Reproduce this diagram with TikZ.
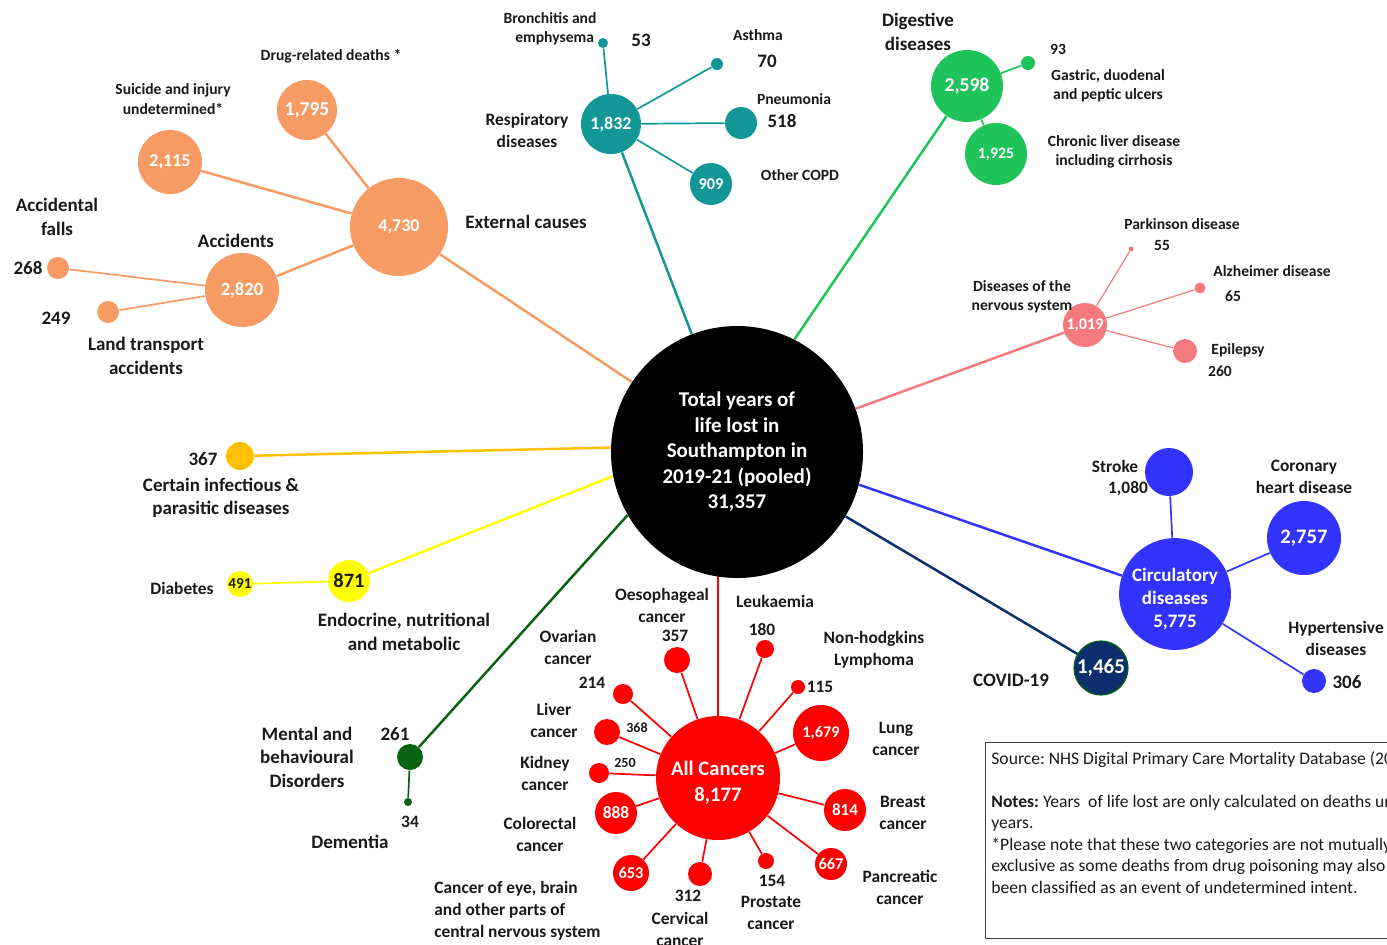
\documentclass[tikz,border=0pt]{standalone}
\usepackage{fontspec}
\setmainfont{Carlito}
\pgfdeclarelayer{bg}
\pgfsetlayers{bg,main}
\definecolor{corange}{RGB}{247,155,100}
\definecolor{cteal}{RGB}{18,150,150}
\definecolor{cgreen}{RGB}{30,196,90}
\definecolor{cpink}{RGB}{245,122,126}
\definecolor{cblue}{RGB}{51,51,255}
\definecolor{cnavy}{RGB}{12,48,107}
\definecolor{cgold}{RGB}{255,192,0}
\definecolor{cyellow}{RGB}{255,255,0}
\definecolor{cdkgreen}{RGB}{8,100,18}
\definecolor{cred}{RGB}{255,0,0}
\definecolor{ctext}{RGB}{25,25,25}
\newcommand{\fs}[2]{\fontsize{#1}{#2}\selectfont}
\frenchspacing
\begin{document}
\frenchspacing
\begin{tikzpicture}[x=0.5pt,y=-0.5pt,
  bub/.style={circle,inner sep=0pt,text=white,align=center,font=\bfseries\fs{9}{11}},
  rad/.style={minimum size=#1pt},
  lab/.style={font=\bfseries\fs{7.8}{9.6},align=center,inner sep=0pt,text=ctext},
  labm/.style={font=\bfseries\fs{8.7}{11},align=center,inner sep=0pt,text=ctext},
  labb/.style={font=\bfseries\fs{9.5}{11.7},align=center,inner sep=0pt,text=ctext},
  labs/.style={font=\bfseries\fs{7}{8},align=center,inner sep=0pt,text=ctext},
  mainln/.style={line width=1.25pt},
  subln/.style={line width=0.85pt},
]
\useasboundingbox (0,0) rectangle (1387,944);
\clip (0,0) rectangle (1387,944);

% ---------- centre ----------
\node[bub,fill=black,rad=126,font=\bfseries\fs{10.5}{12.75}] (tot) at (737,452)
  {Total years of\\life lost in\\Southampton in\\2019-21 (pooled)\\31,357};

% ---------- external causes ----------
\node[bub,fill=corange,rad=49] (ext) at (399,227) {4,730};
\node[bub,fill=corange,rad=30,font=\bfseries\fs{9.8}{11}] (drug) at (307,110) {1,795};
\node[bub,fill=corange,rad=32] (sui) at (170,162) {2,115};
\node[bub,fill=corange,rad=37,font=\bfseries\fs{9.3}{11}] (acc) at (242,290) {2,820};
\node[bub,fill=corange,rad=11] (fall) at (58,268) {};
\node[bub,fill=corange,rad=11] (land) at (108,312) {};
\node[lab] (tdrug) at (331,56) {Drug-related deaths *};
\node[lab] (tsui) at (173,99) {Suicide and injury\\undetermined*};
\node[labb] (text) at (526,222) {External causes};
\node[labb] (tacc) at (236,241) {Accidents};
\node[labb] (tfall) at (57,217) {Accidental\\falls};
\node[labb] (nfall) at (28,268) {268};
\node[labb] (nland) at (56,318) {249};
\node[labb] (tland) at (146,356) {Land transport\\accidents};

% ---------- respiratory ----------
\node[bub,fill=cteal,rad=30] (resp) at (611,124) {1,832};
\node[bub,fill=cteal,rad=5] (bron) at (603,43) {};
\node[bub,fill=cteal,rad=6] (asth) at (717,64) {};
\node[bub,fill=cteal,rad=16] (pneu) at (741,123) {};
\node[bub,fill=cteal,rad=21,font=\bfseries\fs{8.2}{10}] (copd) at (711,184) {909};
\node[lab] (tbron) at (550,29) {Bronchitis and\\\hspace*{0.6em}emphysema};
\node[labb] (nbron) at (641,40) {53};
\node[lab] (tasth) at (758,35) {Asthma};
\node[labb] (nasth) at (767,61) {70};
\node[lab] (tpneu) at (794,99) {Pneumonia};
\node[labb] (npneu) at (782,121) {518};
\node[lab] (tcopd) at (800,175) {Other COPD};
\node[labm] (tresp) at (527,130) {Respiratory\\diseases};

% ---------- digestive ----------
\node[bub,fill=cgreen,rad=36,font=\bfseries\fs{9.8}{11}] (dig) at (967,86) {2,598};
\node[bub,fill=cgreen,rad=7] (ulc) at (1028,63) {};
\node[bub,fill=cgreen,rad=31,font=\bfseries\fs{7.9}{10}] (livd) at (996,154) {1,925};
\node[labb] (tdig) at (918,32) {Digestive\\diseases};
\node[lab] (nulc) at (1058,49) {93};
\node[lab] (tulc) at (1108,86) {Gastric, duodenal\\and peptic ulcers};
\node[lab] (tlivd) at (1114,152) {Chronic liver disease\\including cirrhosis};

% ---------- nervous ----------
\node[bub,fill=cpink,rad=22,font=\bfseries\fs{8.1}{10}] (nerv) at (1085,325) {1,019};
\node[bub,fill=cpink,rad=2.5] (park) at (1131,249) {};
\node[bub,fill=cpink,rad=5.5] (alz) at (1200,288) {};
\node[bub,fill=cpink,rad=12] (epi) at (1185,351) {};
\node[lab] (tnerv) at (1022,297) {Diseases of the\\nervous system};
\node[lab] (tpark) at (1182,224) {Parkinson disease};
\node[lab] (npark) at (1162,245) {55};
\node[lab] (talz) at (1272,271) {Alzheimer disease};
\node[lab] (nalz) at (1233,296) {65};
\node[lab] (tepi) at (1238,350) {Epilepsy};
\node[lab] (nepi) at (1220,371) {260};

% ---------- circulatory ----------
\node[bub,fill=cblue,rad=54,font=\bfseries\fs{9.5}{11.4}] (circ) at (1175,594) {\rule{0pt}{12pt}Circulatory\\diseases\\5,775};
\node[bub,fill=cblue,rad=24] (stroke) at (1169,472) {};
\node[bub,fill=cblue,rad=37,font=\bfseries\fs{10.3}{12}] (chd) at (1304,538) {2,757};
\node[bub,fill=cblue,rad=12] (hyp) at (1314,681) {};
\node[labm] (tstroke) at (1115,466) {Stroke};
\node[labm] (nstroke) at (1128,489) {1,080};
\node[labm] (tchd) at (1304,477) {Coronary\\heart disease};
\node[labm] (thyp) at (1336,638) {Hypertensive\\diseases};
\node[labb] (nhyp) at (1347,682) {306};

% ---------- covid ----------
\node[bub,fill=cnavy,draw=cdkgreen,line width=0.6pt,rad=27,font=\bfseries\fs{10.5}{12}] (covid) at (1101,668) {1,465};
\node[labb] (tcovid) at (1011,680) {COVID-19};

% ---------- infectious / endocrine ----------
\node[bub,fill=cgold,rad=14] (inf) at (240,456) {};
\node[labb] (ninf) at (203,459) {367};
\node[labb] (tinf) at (221,498) {Certain infectious \&\\parasitic diseases};
\node[bub,fill=cyellow,rad=21,text=ctext,font=\bfseries\fs{10.2}{12}] (endo) at (349,581) {871};
\node[bub,fill=cyellow,rad=13,text=ctext,font=\bfseries\fs{7.6}{9}] (diab) at (240,584) {491};
\node[labm] (tdiab) at (182,588) {Diabetes};
\node[labb] (tendo) at (404,632) {Endocrine, nutritional\\and metabolic};

% ---------- mental ----------
\node[bub,fill=cdkgreen,rad=13] (ment) at (410,757) {};
\node[bub,fill=cdkgreen,rad=4] (dem) at (408,802) {};
\node[labb] (nment) at (395,734) {261};
\node[labb] (tment) at (307,757) {Mental and\\behavioural\\Disorders};
\node[labm] (ndem) at (410,822) {34};
\node[labb] (tdem) at (350,842) {Dementia};

% ---------- cancers ----------
\node[bub,fill=cred,rad=62,font=\bfseries\fs{10.3}{13}] (canc) at (718,778) {\rule{0pt}{11.5pt}All Cancers\\8,177};
\node[bub,fill=cred,rad=13] (oes) at (677,660) {};
\node[bub,fill=cred,rad=9] (leuk) at (765,649) {};
\node[bub,fill=cred,rad=7] (nhl) at (798,687) {};
\node[bub,fill=cred,rad=28,font=\bfseries\fs{8.1}{10}] (lung) at (821,733) {1,679};
\node[bub,fill=cred,rad=21,font=\bfseries\fs{8.5}{10}] (breast) at (845,810) {814};
\node[bub,fill=cred,rad=16,font=\bfseries\fs{8.2}{10}] (panc) at (831,864) {667};
\node[bub,fill=cred,rad=8] (pros) at (766,861) {};
\node[bub,fill=cred,rad=12] (cerv) at (700,874) {};
\node[bub,fill=cred,rad=18,font=\bfseries\fs{8.2}{10}] (eye) at (631,873) {653};
\node[bub,fill=cred,rad=21,font=\bfseries\fs{8.7}{10}] (colo) at (616,813) {888};
\node[bub,fill=cred,rad=10] (kid) at (599,773) {};
\node[bub,fill=cred,rad=13] (livc) at (607,732) {};
\node[bub,fill=cred,rad=10] (ova) at (623,694) {};
\node[labm] (toes) at (662,605) {Oesophageal\\cancer};
\node[labm] (noes) at (675,636) {357};
\node[labm] (tleuk) at (775,601) {Leukaemia};
\node[labm] (nleuk) at (762,630) {180};
\node[labm] (tnhl) at (874,650) {Non-hodgkins\\Lymphoma};
\node[labm] (nnhl) at (820,687) {115};
\node[labm] (tlung) at (896,739) {Lung\\cancer};
\node[labm] (tbreast) at (903,813) {Breast\\cancer};
\node[labm] (tpanc) at (900,887) {Pancreatic\\cancer};
\node[labm] (npros) at (772,881) {154};
\node[labm] (tpros) at (771,913) {Prostate\\cancer};
\node[labm] (ncerv) at (688,896) {312};
\node[labm] (tcerv) at (680,929) {Cervical\\cancer};
\node[labm,align=left,anchor=west] (teye) at (434,911) {Cancer of eye, brain\\and other parts of\\central nervous system};
\node[labm] (tcolo) at (540,834) {Colorectal\\cancer};
\node[labs] (nkid) at (625,763) {250};
\node[labm] (tkid) at (545,773) {Kidney\\cancer};
\node[labs] (nlivc) at (637,728) {368};
\node[labm] (tlivc) at (554,720) {Liver\\cancer};
\node[labm] (nova) at (592,683) {214};
\node[labm] (tova) at (568,647) {Ovarian\\cancer};

% ---------- notes box ----------
\node[draw=black!75,line width=0.7pt,rectangle,anchor=north west,inner sep=0pt,
  minimum width=220pt,minimum height=98pt] (nbox) at (985,742) {};
\node[anchor=north west,align=left,inner sep=0pt,font=\fs{8.8}{10.75},text=ctext]
  (ntext) at (991,751) {Source: NHS Digital Primary Care Mortality Database (2019-21)\\
  \mbox{}\\
  \textbf{Notes:} Years\ \ of life lost are only calculated on deaths under 75\\
  years.\\
  *Please note that these two categories are not mutually\\
  exclusive as some deaths from drug poisoning may also have\\
  been classified as an event of undetermined intent.};

% ---------- connectors ----------
\begin{pgfonlayer}{bg}
\draw[mainln,corange] (tot) -- (ext);
\draw[mainln,corange] (ext) -- (drug);
\draw[mainln,corange] (ext) -- (sui);
\draw[mainln,corange] (ext) -- (acc);
\draw[subln,corange] (acc) -- (fall);
\draw[subln,corange] (acc) -- (land);

\draw[mainln,cteal] (tot) -- (resp);
\draw[subln,cteal] (resp) -- (bron);
\draw[subln,cteal] (resp) -- (asth);
\draw[subln,cteal] (resp) -- (pneu);
\draw[subln,cteal] (resp) -- (copd);

\draw[mainln,cgreen] (tot.63) -- (dig);
\draw[subln,cgreen] (dig) -- (ulc);
\draw[subln,cgreen] (dig) -- (livd);

\draw[mainln,cpink] (tot) -- (nerv);
\draw[subln,cpink,line width=0.6pt] (nerv) -- (park);
\draw[subln,cpink,line width=0.6pt] (nerv) -- (alz);
\draw[subln,cpink,line width=0.6pt] (nerv) -- (epi);

\draw[mainln,cblue] (tot.345) -- (circ);
\draw[subln,cblue] (circ) -- (stroke);
\draw[subln,cblue] (circ) -- (chd);
\draw[subln,cblue] (circ) -- (hyp);

\draw[mainln,cnavy] (tot) -- (covid);

\draw[mainln,cgold] (tot.178) -- (inf);
\draw[mainln,cyellow] (tot.191) -- (endo);
\draw[subln,cyellow] (endo) -- (diab);

\draw[mainln,cdkgreen] (tot.210) -- (ment);
\draw[subln,cdkgreen] (ment) -- (dem);

\draw[mainln,cred] (canc |- tot) -- (canc);
\foreach \c in {oes,leuk,nhl,lung,breast,panc,pros,cerv,eye,colo,kid,livc,ova}
  \draw[subln,cred] (canc) -- (\c);
\end{pgfonlayer}
\end{tikzpicture}
\end{document}
